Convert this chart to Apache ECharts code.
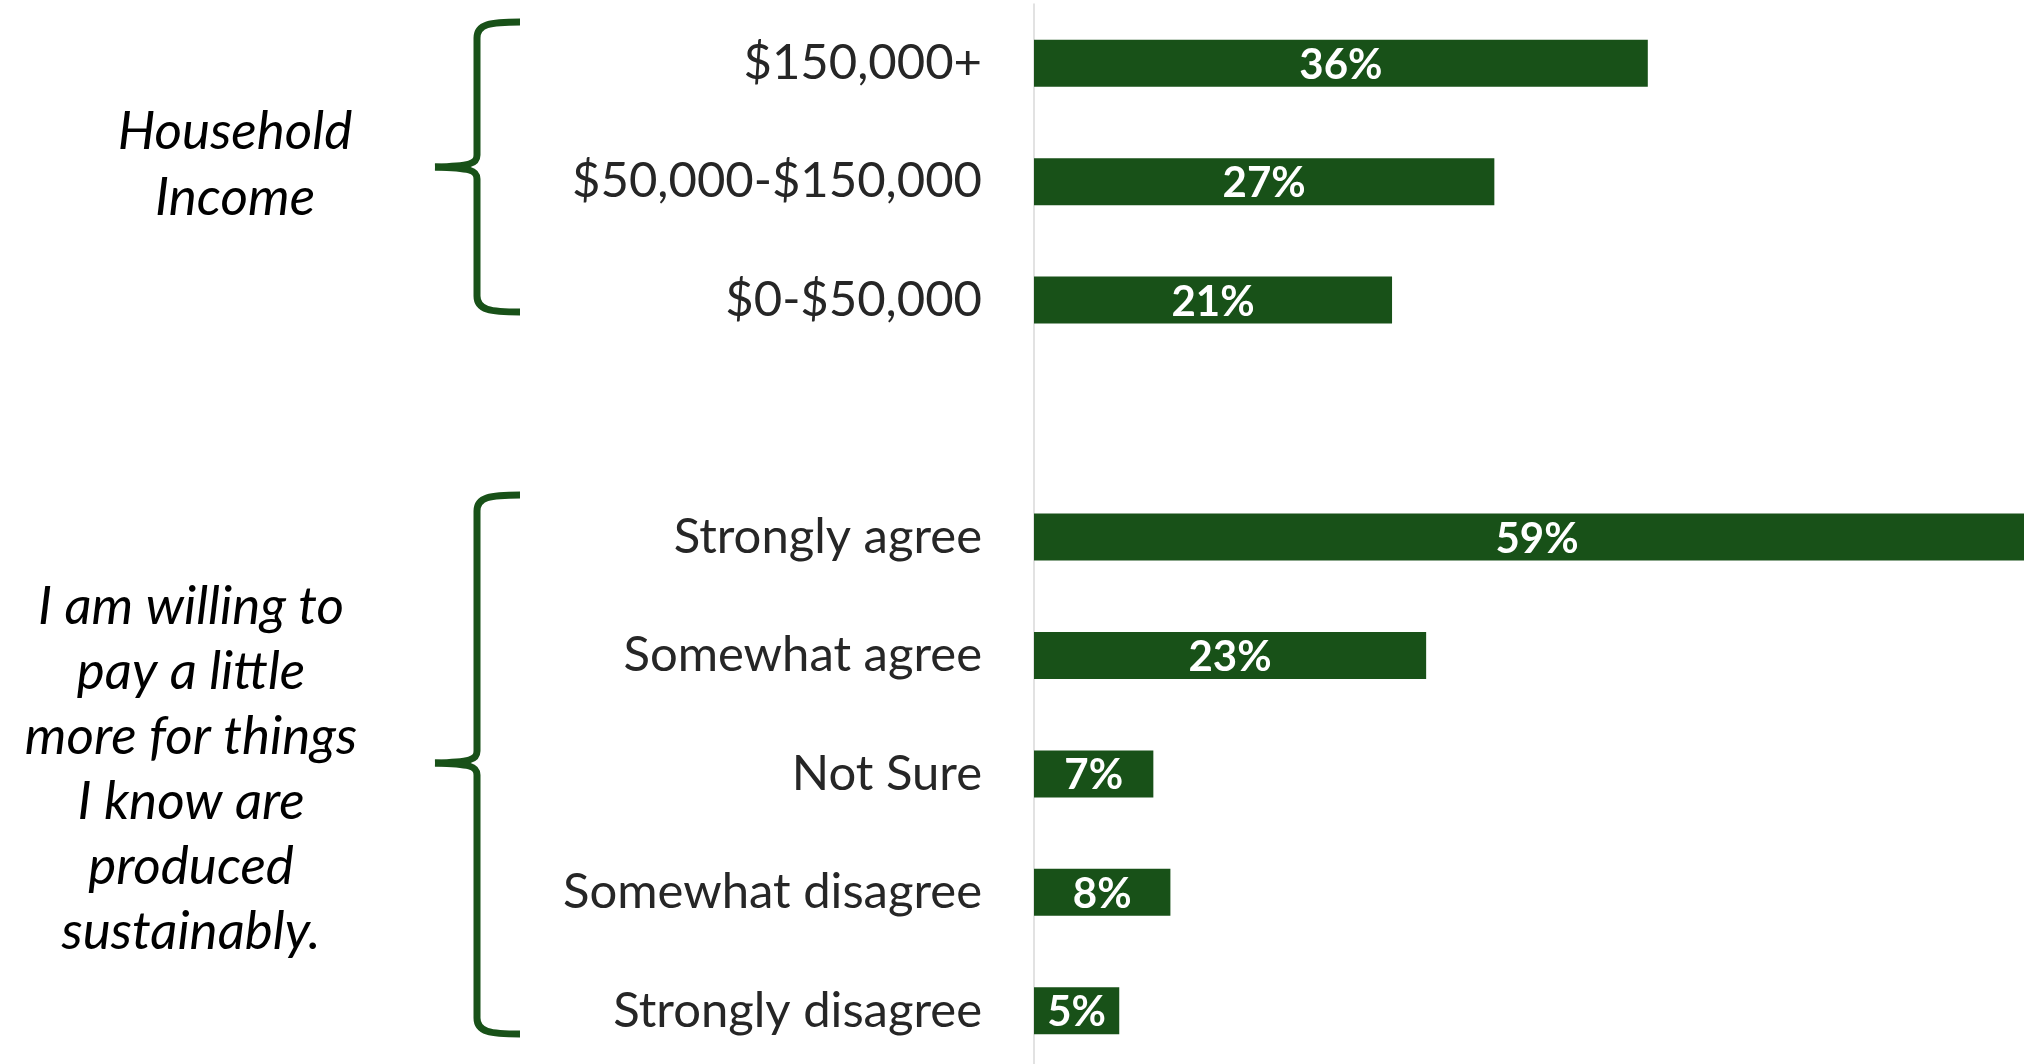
<!DOCTYPE html>
<html>
<head>
<meta charset="utf-8">
<title>Willingness to pay for sustainable products</title>
<script src="https://cdn.jsdelivr.net/npm/echarts@6/dist/echarts.min.js"></script>
<style>
  html, body { margin: 0; padding: 0; background: #ffffff; }
  #chart { width: 2024px; height: 1064px; }
</style>
</head>
<body>
<div id="chart"></div>
<script>
// Response categories, top to bottom (blank entry separates the two groups)
const categories = [
  '$150,000+', '$50,000-$150,000', '$0-$50,000', '',
  'Strongly agree', 'Somewhat agree', 'Not Sure', 'Somewhat disagree', 'Strongly disagree'
];
// Share of respondents (%)
const shares = [36, 27, 21, null, 59, 23, 7, 8, 5];

// Group headings shown beside the braces
const incomeHeading = 'Household\nIncome';
const statementHeading = 'I am willing to\npay a little\nmore for things\nI know are\nproduced\nsustainably.';

const GREEN = '#185118';
const FONT = 'Lato, "Open Sans", sans-serif';

const chart = echarts.init(document.getElementById('chart'), null, { renderer: 'canvas' });

// Left curly brace built from straight and curved strokes
function brace(top, mid, bottom) {
  const stemX = 477, armX = 520, tipX = 435;
  const style = { fill: 'none', stroke: GREEN, lineWidth: 7 };
  return [
    { type: 'bezierCurve', style,
      shape: { x1: armX, y1: top, cpx1: 490, cpy1: top, cpx2: stemX, cpy2: top + 2, x2: stemX, y2: top + 16 } },
    { type: 'line', style,
      shape: { x1: stemX, y1: top + 16, x2: stemX, y2: mid - 12 } },
    { type: 'bezierCurve', style,
      shape: { x1: stemX, y1: mid - 12, cpx1: stemX, cpy1: mid - 3, cpx2: 470, cpy2: mid - 1, x2: tipX, y2: mid } },
    { type: 'bezierCurve', style,
      shape: { x1: tipX, y1: mid, cpx1: 470, cpy1: mid + 1, cpx2: stemX, cpy2: mid + 3, x2: stemX, y2: mid + 12 } },
    { type: 'line', style,
      shape: { x1: stemX, y1: mid + 12, x2: stemX, y2: bottom - 16 } },
    { type: 'bezierCurve', style,
      shape: { x1: stemX, y1: bottom - 16, cpx1: stemX, cpy1: bottom - 2, cpx2: 490, cpy2: bottom, x2: armX, y2: bottom } }
  ];
}

chart.setOption({
  backgroundColor: '#ffffff',
  animation: false,
  grid: {
    left: 1034,
    right: -33,
    top: 4,
    bottom: -6,
    containLabel: false,
    outerBoundsMode: 'none'
  },
  xAxis: {
    type: 'value',
    min: 0,
    max: 60,
    show: false
  },
  yAxis: {
    type: 'category',
    data: categories,
    inverse: true,
    axisLine: { show: true, lineStyle: { color: '#d9d9d9', width: 1.5 } },
    axisTick: { show: false },
    splitLine: { show: false },
    axisLabel: {
      margin: 52,
      fontFamily: FONT,
      fontSize: 49,
      color: '#262626'
    }
  },
  series: [{
    type: 'bar',
    data: shares,
    barWidth: 47,
    itemStyle: { color: GREEN },
    label: {
      show: true,
      position: 'inside',
      formatter: '{c}%',
      color: '#ffffff',
      fontFamily: FONT,
      fontWeight: 'bold',
      fontSize: 42,
      offset: [0, 2]
    }
  }],
  graphic: [
    {
      type: 'text',
      style: {
        text: incomeHeading,
        x: 235, y: 165,
        fontFamily: FONT, fontStyle: 'italic', fontSize: 53,
        lineHeight: 66, fill: '#000000',
        align: 'center', verticalAlign: 'middle'
      }
    },
    {
      type: 'text',
      style: {
        text: statementHeading,
        x: 191, y: 769,
        fontFamily: FONT, fontStyle: 'italic', fontSize: 53,
        lineHeight: 65, fill: '#000000',
        align: 'center', verticalAlign: 'middle'
      }
    }
  ].concat(brace(22, 167, 312), brace(495, 763, 1034))
});
</script>
</body>
</html>
